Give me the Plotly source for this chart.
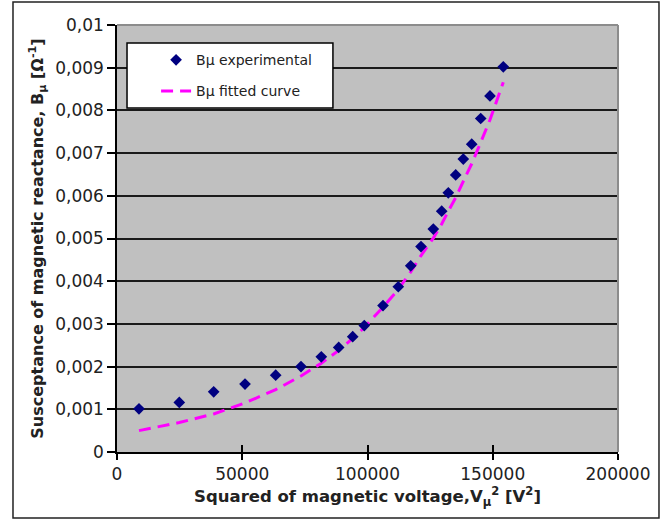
import plotly.graph_objects as go

# Data
v2_exp = [8780, 24870, 38600, 51100, 63350, 73450, 81560, 88500, 94090, 98720,
          106190, 112300, 117250, 121360, 126270, 129620, 132260, 135210, 138240,
          141600, 145190, 148900, 154210]
b_exp = [0.00101, 0.00116, 0.00141, 0.00159, 0.00180, 0.00200, 0.00223, 0.00245,
         0.00270, 0.00296, 0.00343, 0.00387, 0.00436, 0.00481, 0.00522, 0.00564,
         0.00607, 0.00649, 0.00686, 0.00721, 0.00781, 0.00834, 0.00902]
b_fit = [0.00050, 0.00069, 0.00089, 0.00115, 0.00146, 0.00178, 0.00208, 0.00238,
         0.00266, 0.00292, 0.00339, 0.00381, 0.00422, 0.00460, 0.00501, 0.00534,
         0.00564, 0.00596, 0.00634, 0.00675, 0.00725, 0.00778, 0.00866]

x_ticks = [0, 50000, 100000, 150000, 200000]

FONT = "DejaVu Sans"

fig = go.Figure()
fig.add_trace(go.Scatter(
    x=v2_exp, y=b_fit, mode="lines", name="Bμ fitted curve",
    line=dict(color="#FF00FF", width=3, dash="12px,7px"),
    legendgroup="b", legendrank=2))
fig.add_trace(go.Scatter(
    x=v2_exp, y=b_exp, mode="markers", name="Bμ experimental",
    marker=dict(symbol="diamond", size=9, color="#000080"),
    legendgroup="a", legendrank=1))
# invisible trace to activate the overlay axis carrying inner ticks
fig.add_trace(go.Scatter(x=[None], y=[None], xaxis="x2", yaxis="y",
                         showlegend=False, hoverinfo="skip"))

fig.update_layout(
    width=671, height=519,
    margin=dict(l=117, r=53, t=25, b=67),
    paper_bgcolor="white", plot_bgcolor="#C0C0C0",
    separators=", ",
    font=dict(family=FONT, color="#222222"),
    showlegend=True,
    legend=dict(x=0.078, y=0.955, xanchor="left", yanchor="top",
                bgcolor="rgba(0,0,0,0)", borderwidth=0,
                font=dict(family=FONT, size=14, color="#222222"),
                traceorder="grouped", tracegroupgap=10),
    xaxis=dict(range=[0, 200000], tickvals=x_ticks, tickformat="d",
               showgrid=False, zeroline=False,
               showline=True, linecolor="black", linewidth=1.5,
               ticks="outside", ticklen=6, tickcolor="black", tickwidth=1.5,
               tickfont=dict(family=FONT, size=17, color="#222222"),
               title=dict(text="Squared of magnetic voltage,V<sub>μ</sub><sup>2</sup> [V<sup>2</sup>]",
                          font=dict(family=FONT, size=16.5, color="#222222", weight="bold"),
                          standoff=7)),
    xaxis2=dict(range=[0, 200000], tickvals=x_ticks, overlaying="x", anchor="y",
                side="bottom", showticklabels=False, showgrid=False, zeroline=False,
                showline=False, ticks="inside", ticklen=7, tickcolor="black",
                tickwidth=1.5),
    yaxis=dict(range=[0, 0.01], dtick=0.001,
               showgrid=True, gridcolor="#1a1a1a", gridwidth=1.7,
               zeroline=False, showline=True, linecolor="black", linewidth=1.5,
               ticks="outside", ticklen=8, tickcolor="black", tickwidth=1.5,
               tickfont=dict(family=FONT, size=17, color="#222222"),
               title=dict(text="Susceptance of magnetic reactance, B<sub>μ</sub> [Ω<sup>-1</sup>]",
                          font=dict(family=FONT, size=16, color="#222222", weight="bold"),
                          standoff=8)),
    shapes=[
        # grey top/right border of plot area
        dict(type="line", xref="paper", yref="paper", x0=0, x1=1, y0=1, y1=1,
             line=dict(color="#8c8c8c", width=2), layer="above"),
        dict(type="line", xref="paper", yref="paper", x0=1, x1=1, y0=0, y1=1,
             line=dict(color="#8c8c8c", width=2), layer="above"),
        # legend box
        dict(type="rect", xref="paper", yref="paper", x0=0.02, x1=0.431,
             y0=0.8056, y1=0.958, fillcolor="white",
             line=dict(color="black", width=1.5), layer="above"),
        # outer frame
        dict(type="rect", xref="paper", yref="paper", x0=-0.2076, x1=1.0818,
             y0=-0.1546, y1=1.0539, line=dict(color="#222222", width=1.5),
             fillcolor="rgba(0,0,0,0)", layer="above"),
    ],
)

fig.write_html("out.html", config={"displayModeBar": False},
               post_script="document.body.style.margin='0';document.body.style.overflow='hidden';")
